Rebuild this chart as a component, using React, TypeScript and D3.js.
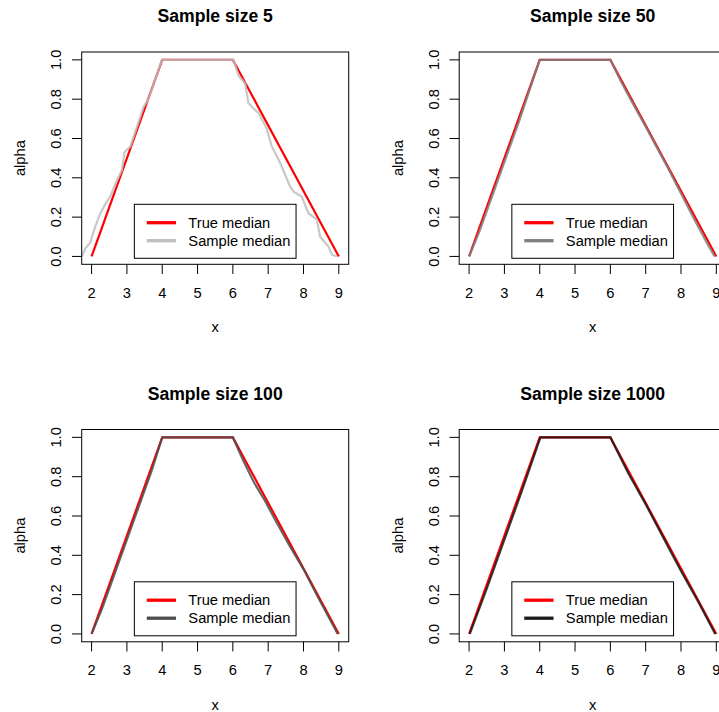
import React from "react";
import * as d3 from "d3";

// true median (same in every panel)
const trueX = [2, 4, 6, 9];
const trueY = [0, 1, 1, 0];

// sample medians
const n5X = [1.72, 1.82, 1.96, 2.1, 2.25, 2.4, 2.53, 2.7, 2.86, 2.93, 3.1, 3.25, 3.47, 3.61, 3.8, 3.99, 6.02, 6.16, 6.35, 6.44, 6.6, 6.73, 6.96, 7.1, 7.34, 7.62, 7.72, 7.95, 8.14, 8.38, 8.47, 8.71, 8.8, 8.94];
const n5Y = [0, 0.04, 0.07, 0.15, 0.22, 0.27, 0.305, 0.38, 0.44, 0.53, 0.56, 0.64, 0.76, 0.8, 0.9, 1.0, 1.0, 0.92, 0.88, 0.78, 0.75, 0.73, 0.65, 0.56, 0.475, 0.356, 0.33, 0.305, 0.22, 0.187, 0.1, 0.05, 0.01, 0];
const n50X = [2.0, 2.3, 2.6, 3.0, 3.4, 3.7, 4.0, 6.0, 6.3, 6.6, 7.0, 7.3, 7.6, 8.0, 8.4, 8.7, 8.95];
const n50Y = [0, 0.13, 0.28, 0.48, 0.68, 0.84, 1.0, 1.0, 0.89, 0.79, 0.66, 0.56, 0.46, 0.32, 0.18, 0.08, 0];
const n100X = [2.0, 2.3, 2.7, 3.0, 3.4, 3.7, 4.0, 6.0, 6.3, 6.6, 6.9, 7.2, 7.6, 8.0, 8.4, 8.7, 8.97];
const n100Y = [0, 0.13, 0.33, 0.48, 0.68, 0.83, 1.0, 1.0, 0.88, 0.77, 0.68, 0.58, 0.45, 0.33, 0.19, 0.09, 0];
const n1000X = [2.02, 2.5, 3.0, 3.5, 4.02, 6.0, 6.5, 7.0, 7.5, 8.0, 8.5, 8.97];
const n1000Y = [0, 0.23, 0.48, 0.73, 1.0, 1.0, 0.82, 0.66, 0.49, 0.32, 0.16, 0];

const sizes = [5, 50, 100, 1000];
const sampleColors = ["#bebebe", "#7f7f7f", "#4d4d4d", "#1a1a1a"];
const xTicks = [2, 3, 4, 5, 6, 7, 8, 9];
const yTicks = [0, 0.2, 0.4, 0.6, 0.8, 1.0];
const legendLabels = ["True median", "Sample median"];

const samples = [
  [n5X, n5Y],
  [n50X, n50Y],
  [n100X, n100Y],
  [n1000X, n1000Y],
];

const FONT = "'Liberation Sans', Arial, Helvetica, sans-serif";
const PANEL = 377.5;
const margin = { left: 81.7, right: 348.7, top: 52, bottom: 264.3 };

const Panel = ({ i }: { i: number }) => {
  const ox = (i % 2) * PANEL;
  const oy = Math.floor(i / 2) * PANEL;
  const x = d3.scaleLinear().domain([1.72, 9.28]).range([margin.left, margin.right]);
  const y = d3.scaleLinear().domain([-0.04, 1.04]).range([margin.bottom, margin.top]);
  const line = d3
    .line<[number, number]>()
    .x((d) => x(d[0]))
    .y((d) => y(d[1]));
  const truePts = trueX.map((v, k) => [v, trueY[k]] as [number, number]);
  const [sx, sy] = samples[i];
  const samplePts = sx.map((v, k) => [v, sy[k]] as [number, number]);
  const cx = (margin.left + margin.right) / 2;
  const cy = (margin.top + margin.bottom) / 2;
  const legW = 161.7;
  const legL = cx - legW / 2;
  const legT = 204.3;
  const legRows = [222.7, 240.7];
  const legColors = ["#ff0000", sampleColors[i]];
  const clipId = `clip${i}`;

  return (
    <g transform={`translate(${ox},${oy})`} fontFamily={FONT}>
      <defs>
        <clipPath id={clipId}>
          <rect x={margin.left} y={margin.top} width={margin.right - margin.left} height={margin.bottom - margin.top} />
        </clipPath>
      </defs>
      <text x={cx} y={22} textAnchor="middle" fontWeight="bold" fontSize={17.6} fill="#000">
        {`Sample size ${sizes[i]}`}
      </text>
      <g clipPath={`url(#${clipId})`}>
        <path d={line(truePts) || ""} fill="none" stroke="#ff0000" strokeWidth={2.2} />
        <path d={line(samplePts) || ""} fill="none" stroke={sampleColors[i]} strokeWidth={2.2} strokeOpacity={0.85} />
      </g>
      <rect
        x={margin.left}
        y={margin.top}
        width={margin.right - margin.left}
        height={margin.bottom - margin.top}
        fill="none"
        stroke="#000"
        strokeWidth={1}
      />
      {/* x axis */}
      {xTicks.map((t) => (
        <g key={`xt${t}`}>
          <line x1={x(t)} x2={x(t)} y1={margin.bottom} y2={margin.bottom + 9.7} stroke="#000" strokeWidth={1} />
          <text x={x(t)} y={297.5} textAnchor="middle" fontSize={14.7} fill="#000">
            {t}
          </text>
        </g>
      ))}
      {/* y axis */}
      {yTicks.map((t) => (
        <g key={`yt${t}`}>
          <line x1={margin.left} x2={margin.left - 9.7} y1={y(t)} y2={y(t)} stroke="#000" strokeWidth={1} />
          <text
            transform={`translate(61,${y(t)}) rotate(-90)`}
            textAnchor="middle"
            fontSize={14.7}
            fill="#000"
          >
            {t.toFixed(1)}
          </text>
        </g>
      ))}
      <text x={cx} y={332.3} textAnchor="middle" fontSize={14.7} fill="#000">
        x
      </text>
      <text transform={`translate(25,${cy}) rotate(-90)`} textAnchor="middle" fontSize={14.7} fill="#000">
        alpha
      </text>
      {/* legend */}
      <rect x={legL} y={legT} width={legW} height={54} fill="#fff" stroke="#000" strokeWidth={1} />
      {legendLabels.map((lab, k) => (
        <g key={lab}>
          <line x1={legL + 12.4} x2={legL + 41.7} y1={legRows[k]} y2={legRows[k]} stroke={legColors[k]} strokeWidth={3.3} />
          <text x={legL + 54} y={legRows[k] + 5.2} fontSize={14.7} fill="#000">
            {lab}
          </text>
        </g>
      ))}
    </g>
  );
};

export default function App() {
  return (
    <svg
      width={719}
      height={712}
      style={{ position: "absolute", left: 0, top: 0, background: "#fff" }}
    >
      <rect width={719} height={712} fill="#fff" />
      {sizes.map((s, i) => (
        <Panel key={s} i={i} />
      ))}
    </svg>
  );
}
